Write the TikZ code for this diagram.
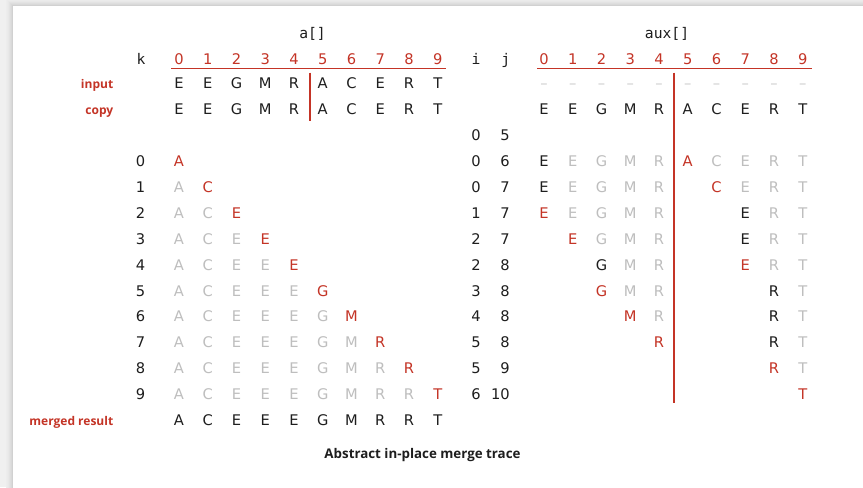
\documentclass[tikz,border=0pt]{standalone}
\usepackage{fontspec}
\setmainfont{DejaVu Sans}
\newfontfamily\labfont{Open Sans}
\newfontfamily\monofont{DejaVu Sans Mono}
\definecolor{bookred}{RGB}{196,52,38}
\definecolor{ink}{RGB}{30,30,30}
\definecolor{dimgray}{RGB}{190,190,190}
\definecolor{dashgray}{RGB}{205,205,205}
\newcommand\resletter[1]{\ifcase#1 A\or C\or E\or E\or E\or G\or M\or R\or R\or T\fi}
\newcommand\inletter[1]{\ifcase#1 E\or E\or G\or M\or R\or A\or C\or E\or R\or T\fi}
\tikzset{
  cell/.style={inner sep=0pt, anchor=base, font=\fontsize{11}{13}\selectfont, text=ink},
  numr/.style={inner sep=0pt, anchor=base east, font=\fontsize{11}{13}\selectfont, text=ink},
  mono/.style={inner sep=0pt, anchor=base, font=\monofont\fontsize{11}{13}\selectfont, text=ink},
  rowlabel/.style={inner sep=0pt, anchor=base east, font=\labfont\bfseries\fontsize{9}{11}\selectfont, text=bookred},
  captionstyle/.style={inner sep=0pt, anchor=base, font=\labfont\bfseries\fontsize{10}{12}\selectfont, text=ink},
  redrule/.style={draw=bookred, line width=1pt},
  divider/.style={draw=bookred, line width=1.5pt}
}
\newcommand\auxrow[2]{%
  \foreach \c/\l/\s in {#2}{%
    \node[cell, text=\s] (x-#1-\c) at ({544+28.75*\c},{166.5+25.9*#1}) {\l};
  }%
}
\begin{document}
\begin{tikzpicture}[x=0.75pt,y=-0.75pt]
\useasboundingbox (0,0) rectangle (863,487);
% background and card shadow
\fill[black!6] (0,0) rectangle (863,487);
\foreach \i/\c in {7/7,6/8,5/9,4/11,3/13,2/15,1/18}{
  \fill[black!\c] ({13-\i},{6-\i}) rectangle (870,495);
}
\fill[white] (13,6) rectangle (870,495);

% titles
\node[mono] (atitle) at (312.5,38.3) {a[]};
\node[mono] (auxtitle) at (667,38.3) {aux[]};

% header row
\node[mono] (khead) at (141,64.3) {k};
\node[mono] (ihead) at (476,64.3) {i};
\node[mono] (jhead) at (505.7,64.3) {j};
\foreach \c in {0,...,9}{
  \node[cell, text=bookred] (ai-\c) at ({179+28.75*\c},64.3) {\c};
  \node[cell, text=bookred] (xi-\c) at ({544+28.75*\c},64.3) {\c};
}
\coordinate (aul) at (171,68.5);
\coordinate (aur) at (446,68.5);
\coordinate (xul) at (537,68.5);
\coordinate (xur) at (812,68.5);
\draw[redrule] (aul) -- (aur);
\draw[redrule] (xul) -- (xur);

% row labels
\node[rowlabel] (linput) at (113.5,88.3) {input};
\node[rowlabel] (lcopy) at (113.5,114.2) {copy};
\node[rowlabel] (lmerged) at (113.5,425.3) {merged result};

% input and copy rows
\foreach \c in {0,...,9}{
  \node[cell] (ain-\c) at ({179+28.75*\c},88.7) {\inletter{\c}};
  \node[cell] (acp-\c) at ({179+28.75*\c},114.6) {\inletter{\c}};
  \node[cell, text=dashgray] (xin-\c) at ({544+28.75*\c},88.7) {–};
  \node[cell] (xcp-\c) at ({544+28.75*\c},114.6) {\inletter{\c}};
}

% i j start row
\node[numr] (i-s) at (481,140.4) {0};
\node[numr] (j-s) at (510,140.4) {5};

% trace rows of a[]
\foreach \k/\i/\j in {0/0/6,1/0/7,2/1/7,3/2/7,4/2/8,5/3/8,6/4/8,7/5/8,8/5/9,9/6/10}{
  \node[numr] (k-\k) at (145.5,{166.5+25.9*\k}) {\k};
  \node[numr] (i-\k) at (481,{166.5+25.9*\k}) {\i};
  \node[numr] (j-\k) at (510,{166.5+25.9*\k}) {\j};
  \foreach \c in {0,...,\k}{
    \ifnum\c<\k
      \node[cell, text=dimgray] (a-\k-\c) at ({179+28.75*\c},{166.5+25.9*\k}) {\resletter{\c}};
    \else
      \node[cell, text=bookred] (a-\k-\c) at ({179+28.75*\c},{166.5+25.9*\k}) {\resletter{\c}};
    \fi
  }
}

% trace rows of aux[]
\auxrow{0}{0/E/ink,1/E/dimgray,2/G/dimgray,3/M/dimgray,4/R/dimgray,5/A/bookred,6/C/dimgray,7/E/dimgray,8/R/dimgray,9/T/dimgray}
\auxrow{1}{0/E/ink,1/E/dimgray,2/G/dimgray,3/M/dimgray,4/R/dimgray,6/C/bookred,7/E/dimgray,8/R/dimgray,9/T/dimgray}
\auxrow{2}{0/E/bookred,1/E/dimgray,2/G/dimgray,3/M/dimgray,4/R/dimgray,7/E/ink,8/R/dimgray,9/T/dimgray}
\auxrow{3}{1/E/bookred,2/G/dimgray,3/M/dimgray,4/R/dimgray,7/E/ink,8/R/dimgray,9/T/dimgray}
\auxrow{4}{2/G/ink,3/M/dimgray,4/R/dimgray,7/E/bookred,8/R/dimgray,9/T/dimgray}
\auxrow{5}{2/G/bookred,3/M/dimgray,4/R/dimgray,8/R/ink,9/T/dimgray}
\auxrow{6}{3/M/bookred,4/R/dimgray,8/R/ink,9/T/dimgray}
\auxrow{7}{4/R/bookred,8/R/ink,9/T/dimgray}
\auxrow{8}{8/R/bookred,9/T/dimgray}
\auxrow{9}{9/T/bookred}

% merged result
\foreach \c in {0,...,9}{
  \node[cell] (m-\c) at ({179+28.75*\c},425.5) {\resletter{\c}};
}

% dividers
\coordinate (avt) at (309.8,72.7);
\coordinate (avb) at (309.8,121);
\coordinate (xvt) at (674.3,72.7);
\coordinate (xvb) at (674.3,403.3);
\draw[divider] (avt) -- (avb);
\draw[divider] (xvt) -- (xvb);

% caption
\node[captionstyle] (caption) at (422.5,458) {Abstract in-place merge trace};
\end{tikzpicture}
\end{document}
